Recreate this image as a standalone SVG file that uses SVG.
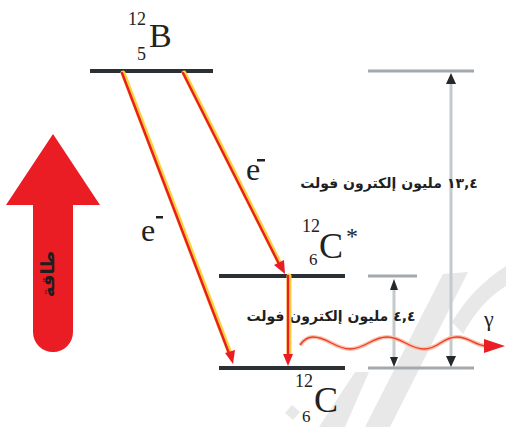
<svg xmlns="http://www.w3.org/2000/svg" width="506" height="427" viewBox="0 0 506 427">
<defs>
<style>
.lvl{stroke:#2b3034;stroke-width:4;fill:none}
.glvl{stroke:#a3a9ad;stroke-width:3;fill:none}
.gvert{stroke:#c3c9cc;stroke-width:3;fill:none}
.glow{stroke:#ffd23c;stroke-width:5;fill:none;stroke-linecap:round}
.red{stroke:#ea1c24;stroke-width:2.4;fill:none;stroke-linecap:round}
.redfill{fill:#ea1c24}
.darkhead{fill:#23292d}
.sym{font-family:"Liberation Serif",serif;fill:#222}
.ar{font-family:"DejaVu Sans",sans-serif;font-weight:bold;fill:#1e1e1e}
.wm{fill:#e8e8e8}
</style>
</defs>

<g id="watermark">
<polygon class="wm" points="443,274 468,272 390,427 365,427"/>
<path class="wm" d="M452,322 Q472,288 506,266 L506,286 Q480,302 463,334 Z"/>
<polygon class="wm" points="355,372 369,372 345,427 319,427"/>
<polygon class="wm" points="292,405 300,412 293,420 285,413"/>
</g>

<g id="energy-arrow">
<path class="redfill" d="M53,134 L100,205 L73,205 L73,332 A20,20 0 0 1 33,332 L33,205 L6,205 Z"/>
<text class="ar" transform="translate(54,274) rotate(-90)" x="0" y="0" font-size="18" text-anchor="middle" direction="rtl">طاقة</text>
</g>

<g id="B12">
<line class="lvl" x1="90" y1="71" x2="213" y2="71"/>
<text class="sym" x="128" y="25" font-size="18">12</text>
<text class="sym" x="137" y="60" font-size="18">5</text>
<text class="sym" x="149" y="47" font-size="34">B</text>
</g>

<g id="C12star">
<line class="lvl" x1="219" y1="276" x2="345" y2="276"/>
<text class="sym" x="302" y="232" font-size="18">12</text>
<text class="sym" x="309" y="265" font-size="17">6</text>
<text class="sym" x="319" y="258" font-size="36">C</text>
<text class="sym" x="346" y="244" font-size="24">*</text>
</g>

<g id="C12">
<line class="lvl" x1="219" y1="368" x2="345" y2="368"/>
<text class="sym" x="295" y="387" font-size="18">12</text>
<text class="sym" x="302" y="422" font-size="17">6</text>
<text class="sym" x="314" y="412" font-size="36">C</text>
</g>

<g id="energy-scale">
<line class="glvl" x1="368" y1="71" x2="474" y2="71"/>
<line class="glvl" x1="368" y1="276" x2="417" y2="276"/>
<line class="glvl" x1="368" y1="368" x2="474" y2="368"/>
<line class="gvert" x1="451" y1="84" x2="451" y2="356"/>
<polygon class="darkhead" points="446,84 451,73 456,84"/>
<polygon class="darkhead" points="446,356 451,367 456,356"/>
<line class="gvert" x1="394" y1="290" x2="394" y2="358"/>
<polygon class="darkhead" points="390,290 394,279 398,290"/>
<polygon class="darkhead" points="390,357 394,367 398,357"/>
<text class="ar" x="389" y="188" font-size="14" text-anchor="middle" direction="rtl">١٣,٤ مليون إلكترون فولت</text>
<text class="ar" x="331" y="321" font-size="14" text-anchor="middle" direction="rtl">٤,٤ مليون إلكترون فولت</text>
</g>

<g id="connectors">
<line class="glow" x1="123" y1="73" x2="231" y2="356"/>
<line class="red" x1="122" y1="73" x2="230" y2="356"/>
<polygon class="redfill" points="225,353 233,364 235,350"/>
<line class="glow" x1="184" y1="73" x2="280" y2="264"/>
<line class="red" x1="183" y1="73" x2="279" y2="264"/>
<polygon class="redfill" points="274,265 285,274 284,260"/>
<line class="glow" x1="289" y1="276" x2="289" y2="356"/>
<line class="red" x1="288" y1="276" x2="288" y2="356"/>
<polygon class="redfill" points="283,354 288,366 293,354"/>
<path d="M300,345 C305,338 309,337 313,337 C328,337 335,349 350,349 C365,349 372,337 387,337 C402,337 409,349 424,349 C439,349 442,337 457,337 C470,337 475,346 487,346" fill="none" stroke="#f9c2aa" stroke-width="4"/>
<path d="M300,345 C305,338 309,337 313,337 C328,337 335,349 350,349 C365,349 372,337 387,337 C402,337 409,349 424,349 C439,349 442,337 457,337 C470,337 475,346 487,346" fill="none" stroke="#ef3b2c" stroke-width="1.4"/>
<polygon class="redfill" points="484,339 505,346 484,353"/>
</g>

<g id="labels">
<text class="sym" x="141" y="241" font-size="32">e</text>
<rect x="156" y="216" width="7" height="2.5" fill="#222"/>
<text class="sym" x="246" y="180" font-size="32">e</text>
<rect x="257" y="159" width="8" height="2.5" fill="#222"/>
<text class="sym" x="484" y="326" font-size="22">γ</text>
</g>
</svg>
